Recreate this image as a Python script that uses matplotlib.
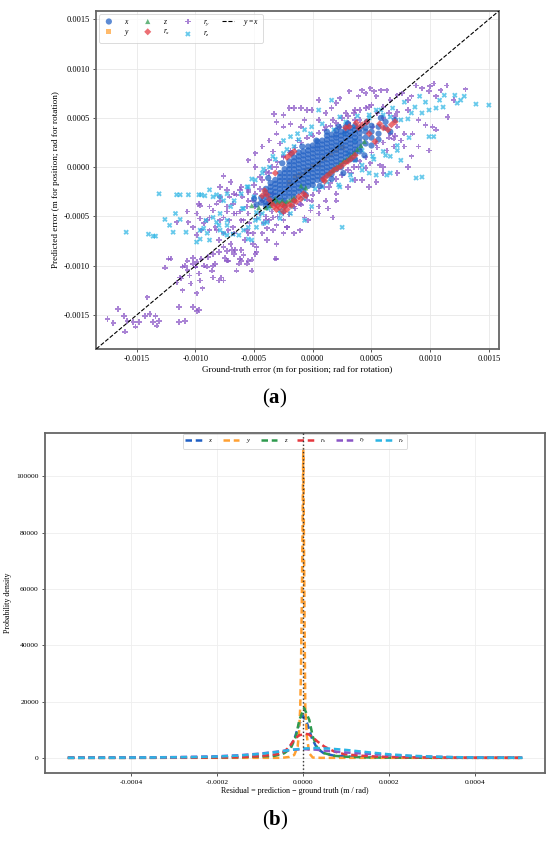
import matplotlib
matplotlib.use("Agg")
import matplotlib.pyplot as plt
import numpy as np
from matplotlib.ticker import FormatStrFormatter, MultipleLocator

plt.rcParams['font.family'] = ['Liberation Serif', 'DejaVu Serif']
plt.rcParams['mathtext.fontset'] = 'custom'
plt.rcParams['mathtext.rm'] = 'Liberation Serif'
plt.rcParams['mathtext.it'] = 'Liberation Serif:italic'
plt.rcParams['mathtext.bf'] = 'Liberation Serif:bold'

U = 1e-4  # values below are read in units of 1e-4 (m or rad)

# ---------------- panel (a): scatter data (ground truth, predicted) ----------------
# r_y (purple)
ry_gt = [-17.5,-17.0,-16.6,-16.1,-16.0,-15.8,-15.3,-15.1,-14.8,-14.3,-14.1,-13.9,-13.6,-13.4,-13.3,-13.1,-11.4,-11.4,-10.9,-10.2,-9.9,
         -12.6,-12.3,-11.6,-11.3,-11.1,-10.9,-10.7,-10.7,-10.5,-10.4,-10.2,-10.2,-10.0,-9.9,-9.7,-9.6,-9.5,-9.3,-9.0,-8.9,-8.6,-8.5,-8.5,-8.3,-8.0,-7.8,-7.6,-7.5,-7.3,-7.2,-6.9,-6.6,-6.5,-6.3,-6.2,-6.1,-5.9,-5.6,-5.2,-4.8,-3.2,-8.0,-9.4,-9.9,
         -9.6,-9.3,-9.0,-8.8,-9.5,-8.8,-8.3,-8.0,-7.6,-7.3,-7.2,-7.1,-6.8,-6.5,-6.2,-5.9,-5.6,-5.6,-5.4,-5.1,-4.8,-4.5,-4.2,-3.9,-3.7,-3.4,-3.1,-2.8,-2.5,-2.2,-4.8,-5.1,-3.9,-6.8,-7.1,-6.5,-6.2,-8.2,-7.9,-8.5,-9.6,-9.9,-5.1,-3.9,-3.4,-2.5,-10.6,-10.2,-11.6,-10.7,-9.9,
         3.1,3.9,4.2,4.5,4.9,5.2,5.4,5.8,6.3,6.6,7.2,7.6,8.1,8.4,8.8,9.3,9.9,10.0,10.3,10.5,10.9,11.4,11.5,12.0,13.0,9.0,9.6,10.2,10.5,8.5,6.9,7.8,9.0,2.3,2.0,1.6,1.1,0.5,-0.5,-1.0,-1.6,-2.0,-2.5,-3.3,-3.1,-0.7,-0.1,2.8,3.6,4.8,6.0,7.2,8.1,7.2,7.8,6.6,7.5,5.1,3.6,5.4,6.3,5.7,4.9,4.5,3.9,3.3,3.6,3.0,6.9,6.0,
         1.4,2.0,1.3,0.5,-0.2,-0.7,1.7,-0.1,-1.1,-1.6,-2.5,-2.2,-3.1,-5.2,-5.5,-6.1,-5.8,-4.9,-7.0,-7.6,-8.2,-7.9,
         -7.6,-7.0,-6.1,-5.5,-4.9,-4.3,-3.7,-3.1,-2.5,-1.9,-1.3,-2.8,-3.4,-3.7,
         -12.1,-11.2,-11.1,-10.0,-9.7,-9.7,-8.8,-7.9,-7.3,-6.7,-6.1,-5.5,-4.9,-4.3,-5.5,-6.7,-7.3,-7.9,-4.0,-3.4,-2.5,-1.6,-5.5,-6.7,-7.6,-8.5,-7.3,-6.7,-4.3,-3.1,-1.1,-0.4,0.5,1.1,2.0,3.0,3.6,4.2,4.8,5.4,6.0,7.2,8.1,8.4,9.9,
         -2.5,-3.1,-3.7,-4.3,-4.9,-5.5,-4.9,-1.9,-1.0,0.5,1.1,1.7,2.3,
         -4.5,-4.0,-3.5,-3.0,-2.5,-2.0,-1.5,-1.0,-0.5,0.0,0.5,1.0,1.5,2.0,2.5,3.0,3.5,4.0,4.5,5.0,5.5,6.0,6.5,7.0,3.0,4.0,-5.0,-5.5,-6.0,-4.5,
         -3.0,-2.5,-2.0,-1.5,-1.0,-0.5,0.0,0.5,1.0,1.5,2.0,2.5,3.0,3.5,4.0,4.5,5.0,5.5,6.0,6.5,7.0,-4.0,-3.5]
ry_pr = [-15.4,-15.8,-14.4,-15.1,-16.7,-15.6,-15.7,-16.2,-15.7,-15.1,-13.2,-14.9,-15.7,-15.1,-16.1,-15.6,-14.2,-15.7,-15.6,-14.2,-14.6,
         -10.2,-9.3,-11.7,-11.2,-10.1,-10.0,-9.5,-10.4,-11.0,-11.8,-9.8,-9.2,-10.1,-9.6,-10.8,-11.5,-9.3,-10.0,-10.1,-9.1,-10.5,-10.0,-11.2,-9.8,-8.6,-11.2,-11.5,-9.2,-8.5,-9.5,-8.4,-8.4,-10.5,-9.8,-9.3,-9.5,-8.9,-9.8,-9.4,-8.6,-9.3,-11.5,-12.3,-12.8,
         -5.2,-5.7,-5.4,-5.1,-6.4,-6.4,-6.1,-7.4,-5.1,-4.5,-6.4,-5.4,-6.1,-4.7,-4.5,-5.4,-4.0,-6.4,-5.7,-6.7,-5.2,-4.7,-5.7,-6.2,-5.4,-5.1,-5.9,-4.5,-5.4,-6.1,-8.1,-7.8,-7.4,-3.7,-3.0,-2.8,-2.3,-3.7,-3.0,-4.4,-3.9,-4.7,-3.4,-3.7,-2.7,-3.4,-5.6,-6.1,-5.6,-4.5,-6.9,
         7.7,7.2,7.8,7.5,8.0,7.7,7.2,7.8,7.8,6.8,7.3,7.5,6.8,7.2,8.3,8.0,7.7,8.2,8.5,7.2,7.8,8.3,5.1,6.8,7.9,4.8,4.3,4.1,3.8,3.4,2.9,2.1,2.1,7.0,6.5,6.0,5.5,6.8,5.8,6.0,6.0,6.0,5.3,5.4,4.6,4.8,5.8,5.5,5.8,6.1,6.1,5.6,5.8,4.1,3.4,3.4,2.7,4.1,4.8,2.4,1.7,0.2,0.4,-0.1,0.0,-0.6,1.6,0.7,2.1,0.0,
         -2.0,-3.4,-4.2,-4.7,-4.4,-5.1,-5.1,-3.4,-3.7,-4.0,-4.7,-6.1,-9.3,-10.5,-9.5,-8.4,-7.4,-8.8,-7.8,-6.7,-6.4,-5.4,
         -0.9,-1.5,-2.0,-2.3,-2.7,-1.3,-0.6,0.0,1.1,1.7,2.7,2.4,1.6,0.7,
         -9.3,-11.3,-12.5,-10.1,-14.5,-3.7,-4.0,-3.4,-4.0,-4.7,-5.4,-4.7,-4.0,-3.4,-3.4,-2.7,-2.3,-2.0,-5.4,-6.4,-6.7,-6.7,-6.7,-6.7,-8.1,-8.8,-9.5,-8.8,-6.7,-7.8,-6.4,-5.4,-4.0,-3.4,-2.7,-2.0,-1.3,-1.3,-2.0,-1.5,-0.6,-0.6,0.0,1.1,1.7,
         4.1,3.4,2.7,2.1,1.4,0.7,0.0,4.4,4.1,4.8,4.1,4.8,4.1,
         -1.0,-0.5,0.0,0.5,1.0,1.5,2.0,2.5,3.0,3.2,3.5,3.8,4.2,4.5,5.0,5.2,5.5,5.8,6.0,6.3,5.5,5.0,5.5,5.2,4.5,4.8,-1.8,-2.5,-3.0,-2.2,
         -5.0,-4.6,-4.8,-4.2,-3.8,-3.3,-2.8,-2.4,-2.0,-1.6,-1.2,-0.8,-0.3,0.0,0.6,1.0,1.5,2.0,2.5,3.0,3.2,-5.0,-4.5]

# r_z (cyan)
rz_gt = [-15.9,-14.0,-13.6,-13.1,-12.6,-12.2,-11.9,-11.7,-11.6,-11.3,-11.3,-10.8,-10.6,-9.9,-9.7,-9.6,-9.5,-9.2,-8.8,-8.5,-8.2,-7.9,-7.6,-7.3,-8.2,-8.0,-7.9,-7.6,-7.3,-6.8,-6.3,-5.9,-5.5,-5.2,-4.8,-4.2,-3.9,-2.8,-2.7,-2.5,-4.6,-5.9,-5.6,-7.3,-9.3,-8.8,-9.6,-9.0,-13.4,
         13.9,15.0,12.9,12.6,12.3,12.1,11.2,10.8,10.5,11.1,9.6,9.1,8.7,8.4,9.3,9.9,8.1,7.5,6.6,6.0,5.4,4.8,10.3,9.3,6.6,6.3,5.4,4.8,4.2,3.6,3.0,2.3,5.1,4.2,3.6,7.2,6.0,7.5,6.6,3.6,4.2,2.7,2.3,1.6,0.5,-0.1,-0.7,-1.9,-2.5,-1.3,-1.6,-2.5,-3.4,-3.7,-4.3,-4.9,-5.5,-6.1,-6.7,-7.0,-7.3,-7.9,-8.5,-9.1,-3.7,-4.3,-4.9,-5.5,-1.9,-0.7,-0.1,2.5,0.8,2.3,3.3,8.8,9.9,
         -4.2,-3.2,-2.2,-1.2,-0.2,0.8,1.8,2.8,3.8,4.8,5.8,6.8,7.8,-5.2,
         -3.8,-2.8,-1.8,-0.8,0.2,1.2,2.2,3.2,4.2,5.2,6.2,7.2,8.2,-4.8,-6.0,-5.0]
rz_pr = [-6.6,-6.8,-7.0,-2.7,-5.3,-5.9,-6.6,-4.7,-2.8,-2.8,-5.3,-6.6,-2.8,-7.6,-2.8,-7.3,-2.8,-2.9,-2.3,-3.0,-2.8,-3.0,-3.4,-2.7,-5.6,-5.9,-6.4,-6.7,-6.9,-6.8,-6.9,-6.4,-7.3,-7.4,-6.1,-5.7,-5.6,-5.2,-4.7,-4.4,-5.2,-4.2,-2.0,-5.9,-6.2,-7.4,-6.4,-6.7,-7.0,
         6.4,6.3,7.2,6.8,6.5,7.3,7.3,6.8,6.0,6.1,6.6,7.2,6.1,5.5,5.5,5.8,4.9,4.8,5.1,5.3,5.8,5.3,3.1,-1.0,-0.6,-0.8,-0.8,-0.6,-0.3,0.7,1.4,2.1,1.1,1.7,2.7,1.7,1.6,0.7,1.1,4.1,4.1,3.4,5.1,6.8,5.8,4.1,3.8,3.1,2.7,3.4,2.1,1.4,1.1,0.0,-0.6,-1.3,-2.0,-2.7,-3.4,-4.0,-5.4,-4.7,-5.1,-5.4,-4.0,-4.7,-5.4,-6.1,-4.7,-5.4,-4.0,-6.1,-2.0,-2.0,-1.3,-1.1,3.1,
         -0.2,0.8,1.8,2.8,3.4,4.4,3.8,4.6,5.2,5.0,5.8,6.0,6.6,-1.2,
         -4.2,-4.4,-4.0,-3.2,-2.2,-1.5,-1.8,-0.8,0.2,0.8,1.2,2.2,3.0,-4.6,-4.2,-3.0]

# r_x (red)
rx_gt = [-3.9,-3.7,-3.5,-3.3,-3.0,-2.8,-2.6,-2.4,-2.2,-2.0,-1.8,-1.6,-1.4,-1.2,-1.0,-0.8,-0.6,-3.1,-2.5,-4.1,-4.3,
         -2.2,-1.9,-1.6,-3.2,
         0.9,1.2,1.5,1.8,2.1,2.4,2.7,3.0,3.3,3.6,1.0,
         3.1,3.7,4.2,4.8,5.3,5.7,6.0,6.4,6.7,7.0,4.6,2.8,3.9]
rx_pr = [-2.8,-3.3,-3.7,-4.0,-3.9,-4.1,-3.8,-4.0,-4.3,-3.8,-3.9,-3.4,-3.5,-3.0,-3.2,-2.7,-2.9,-4.3,-4.5,-2.4,-2.9,
         1.0,1.3,1.6,-0.6,
         -1.2,-0.9,-0.6,-0.3,-0.1,0.1,0.4,0.6,0.9,1.2,-1.4,
         4.1,4.5,4.3,3.4,2.6,4.4,4.0,3.8,4.3,4.6,4.6,4.0,4.0]

# z (green)
z_gt = [-3.2,-3.0,-2.8,-2.6,-2.4,-2.2,-2.0,-1.8,-1.6,-3.6,-4.0,-4.6,-5.2,-3.4,
        1.4,1.7,2.0,2.3,2.6,2.9,3.2,3.5,3.8,4.1,4.4,-1.0,-0.6]
z_pr = [-3.2,-3.5,-3.6,-3.4,-3.7,-3.5,-3.4,-3.3,-3.1,-3.9,-4.1,-4.1,-3.9,-3.5,
        -0.6,-0.3,0.0,0.3,0.6,0.8,1.1,1.4,1.8,2.2,2.6,-1.9,-2.1]

# y (orange) - hidden under the x cloud
y_gt = [-2.0,-1.0,0.0,1.0,2.0,-1.5,0.5,1.5,2.5,-0.5]
y_pr = [-1.6,-0.8,0.1,0.9,1.7,-1.0,0.3,1.3,2.0,-0.3]

# x (blue) - dense core, read column by column: ground truth -> predicted values
x_cols = {
    -4.4: [-3.6,-3.1],
    -4.0: [-3.9,-3.5,-3.0,-2.6,-2.2],
    -3.6: [-3.6,-3.2,-2.8,-2.4,-2.0,-1.6],
    -3.2: [-3.7,-3.3,-2.9,-2.5,-2.1,-1.7,-1.3],
    -2.8: [-3.4,-3.0,-2.6,-2.2,-1.8,-1.4,-1.0,-0.6],
    -2.4: [-3.4,-3.0,-2.6,-2.2,-1.8,-1.4,-1.0,-0.6,-0.2],
    -2.0: [-3.0,-2.6,-2.2,-1.8,-1.4,-1.0,-0.6,-0.2,0.2,0.6],
    -1.6: [-3.0,-2.6,-2.2,-1.8,-1.4,-1.0,-0.6,-0.2,0.2,0.6,1.0],
    -1.2: [-2.5,-2.1,-1.7,-1.3,-0.9,-0.5,-0.1,0.3,0.7,1.1,1.5],
    -0.8: [-2.4,-2.0,-1.6,-1.2,-0.8,-0.4,0.0,0.4,0.8,1.2,1.6],
    -0.4: [-1.9,-1.5,-1.1,-0.7,-0.3,0.1,0.5,0.9,1.3,1.7,2.1],
    0.0: [-1.8,-1.4,-1.0,-0.6,-0.2,0.2,0.6,1.0,1.4,1.8,2.2],
    0.4: [-1.3,-0.9,-0.5,-0.1,0.3,0.7,1.1,1.5,1.9,2.2,2.6],
    0.8: [-1.3,-0.9,-0.5,-0.1,0.3,0.7,1.1,1.5,1.9,2.3,2.7],
    1.2: [-0.8,-0.4,0.0,0.4,0.8,1.2,1.6,2.0,2.4,2.8,3.2],
    1.6: [-0.7,-0.3,0.1,0.5,0.9,1.3,1.7,2.1,2.5,2.9,3.3],
    2.0: [-0.2,0.2,0.6,1.0,1.4,1.8,2.2,2.6,3.0,3.3,3.7],
    2.4: [0.0,0.4,0.8,1.2,1.6,2.0,2.4,2.8,3.2,3.6],
    2.8: [0.6,1.0,1.4,1.8,2.2,2.6,3.0,3.4,3.7,4.1],
    3.2: [0.8,1.2,1.6,2.0,2.4,2.8,3.2,3.6,4.0],
    3.6: [1.4,1.8,2.2,2.6,3.0,3.4,3.8,4.2],
    4.0: [1.6,2.0,2.5,3.0,3.5,3.9],
    4.5: [2.4,3.0,3.6,4.0],
    5.0: [3.0,3.6,4.2],
    5.6: [3.4,4.1],
    6.2: [4.0,4.6],
}
x_extra_gt = [-4.8,-5.0,-3.8,-2.6,-1.8,-0.9,0.3,1.2,2.2,3.0,3.6,2.6,1.6,0.6,-0.6,-1.6,-2.4,4.4,5.0,5.6,6.6,7.0,5.8,4.6]
x_extra_pr = [-3.8,-3.2,-1.1,0.4,1.4,2.1,2.7,3.6,4.1,4.4,0.8,-0.6,-1.2,-1.9,-2.8,-3.4,-3.9,1.2,2.2,2.8,3.6,4.8,5.0,4.6]

# ---------------- panel (b): residual density curves (residual in 1e-4, density) ----------------
kde_x_res = [-5.47,-4.0,-3.0,-2.0,-1.5,-1.0,-0.7,-0.47,-0.32,-0.2,-0.1,0.0,0.1,0.2,0.32,0.47,0.7,1.0,1.5,2.0,3.0,4.0,5.09]
kde_x_den = [0,10,30,100,220,450,800,1700,3400,7000,11800,14900,11800,7000,3400,1700,800,450,180,70,15,5,0]
kde_y_res = [-5.47,-0.5,-0.33,-0.21,-0.13,-0.093,-0.07,-0.054,-0.03,0.0,0.03,0.047,0.085,0.14,0.22,0.4,5.09]
kde_y_den = [0,0,300,1000,4000,10000,18000,30000,60000,110000,50000,18000,7500,1600,100,0,0]
kde_z_res = [-5.47,-4.0,-3.0,-2.0,-1.5,-1.0,-0.67,-0.44,-0.29,-0.17,-0.09,0.02,0.14,0.22,0.33,0.49,0.72,1.0,1.5,2.0,3.0,4.0,5.09]
kde_z_den = [0,10,30,100,250,500,700,1650,3400,7600,13500,17700,13500,7600,3400,1650,700,400,150,60,15,5,0]
kde_rx_res = [-5.47,-4.0,-3.0,-2.0,-1.5,-1.0,-0.6,-0.44,-0.33,-0.21,-0.1,0.05,0.12,0.22,0.33,0.49,0.72,0.95,1.3,1.7,2.2,3.0,4.0,5.09]
kde_rx_den = [0,15,40,130,250,600,1300,2250,3800,6400,8000,8500,8400,7300,5800,4000,2250,1300,800,450,220,80,20,0]
kde_ry_res = [-5.47,-4.5,-3.5,-3.0,-2.5,-2.0,-1.5,-1.0,-0.6,-0.3,0.0,0.3,0.6,1.0,1.5,2.0,2.5,3.0,3.5,4.0,4.5,5.09]
kde_ry_den = [30,80,180,260,380,560,900,1500,2200,2800,3100,2900,2400,1900,1400,950,620,380,220,120,60,20]
kde_rz_res = [-5.47,-4.5,-3.5,-3.0,-2.5,-2.0,-1.5,-1.0,-0.6,-0.3,0.0,0.3,0.6,1.0,1.5,2.0,2.5,3.0,3.5,4.0,4.5,5.09]
kde_rz_den = [20,60,130,200,300,470,800,1400,2100,2800,3300,3500,3300,2800,2000,1250,750,450,250,130,60,20]

labels = [r'$x$', r'$y$', r'$z$', r'$r_x$', r'$r_y$', r'$r_z$']
colors = ['#1f5fc4', '#ffa032', '#2e9a4e', '#e5383e', '#8a55c6', '#2bb4e4']
markers = ['o', 's', '^', 'D', 'P', 'X']
sizes = [20, 14, 14, 13, 15, 15]

# ---------------- figure ----------------
fig = plt.figure(figsize=(5.5, 8.47), dpi=100)
ax1 = fig.add_axes([0.175, 0.588, 0.732, 0.399])
ax2 = fig.add_axes([0.082, 0.087, 0.909, 0.402])

xb_gt, xb_pr = [], []
for gx, ys in x_cols.items():
    for yy in ys:
        xb_gt.append(gx); xb_pr.append(yy)
xb_gt += x_extra_gt; xb_pr += x_extra_pr

series = {
    0: (xb_gt, xb_pr), 1: (y_gt, y_pr), 2: (z_gt, z_pr),
    3: (rx_gt, rx_pr), 4: (ry_gt, ry_pr), 5: (rz_gt, rz_pr),
}
handles = {}
for i in [4, 5, 1, 0, 2, 3]:
    gx, py = series[i]
    h = ax1.scatter(np.array(gx) * U, np.array(py) * U, s=sizes[i], marker=markers[i],
                    color=colors[i], alpha=0.72, edgecolors='none', label=labels[i], zorder=2)
    handles[i] = h

lim = (-0.001845, 0.001585)
line, = ax1.plot(lim, lim, color='black', ls='--', lw=0.8, label=r'$y=x$', zorder=3)
ax1.set_xlim(lim); ax1.set_ylim(lim)
ax1.xaxis.set_major_locator(MultipleLocator(0.0005))
ax1.yaxis.set_major_locator(MultipleLocator(0.0005))
ax1.xaxis.set_major_formatter(FormatStrFormatter('%.4f'))
ax1.yaxis.set_major_formatter(FormatStrFormatter('%.4f'))
ax1.grid(True, color='#e8e8e8', lw=0.6, zorder=0)
ax1.set_axisbelow(True)
ax1.set_xlabel('Ground-truth error (m for position; rad for rotation)', fontsize=6.6, labelpad=2)
ax1.set_ylabel('Predicted error (m for position; rad for rotation)', fontsize=6.6, labelpad=3)
leg1 = ax1.legend([handles[0], handles[1], handles[2], handles[3], handles[4], handles[5], line],
                  [labels[0], labels[1], labels[2], labels[3], labels[4], labels[5], r'$y=x$'],
                  loc='upper left', ncol=4, fontsize=5.5, frameon=True, columnspacing=1.5,
                  handletextpad=1.2, borderpad=0.45, labelspacing=0.3, markerscale=1.0,
                  handlelength=1.6, fancybox=True, borderaxespad=0.4)
leg1.get_frame().set_edgecolor('#cccccc')
leg1.get_frame().set_linewidth(0.6)

curves = [(kde_x_res, kde_x_den), (kde_y_res, kde_y_den), (kde_z_res, kde_z_den),
          (kde_rx_res, kde_rx_den), (kde_ry_res, kde_ry_den), (kde_rz_res, kde_rz_den)]
for i, (rx, dn) in enumerate(curves):
    ax2.plot(np.array(rx) * U, dn, color=colors[i], ls='--', lw=1.8, dashes=(2.6, 1.5),
             label=labels[i], zorder=3 + i)
ax2.axvline(0, color='#333333', ls=':', lw=1.0, zorder=10)
ax2.xaxis.set_major_locator(MultipleLocator(0.0002))
ax2.xaxis.set_major_formatter(FormatStrFormatter('%.4f'))
ax2.yaxis.set_major_locator(MultipleLocator(20000))
ax2.grid(True, color='#eeeeee', lw=0.6, zorder=0)
ax2.set_axisbelow(True)
ax2.set_xlabel('Residual = prediction \u2212 ground truth (m / rad)', fontsize=5.8, labelpad=2)
ax2.set_ylabel('Probability density', fontsize=5.8, labelpad=3)
leg2 = ax2.legend(loc='upper center', ncol=6, fontsize=4.8, frameon=True, handlelength=2.45,
                  columnspacing=1.4, handletextpad=1.0, borderpad=0.4, borderaxespad=0.2)
leg2.get_frame().set_edgecolor('#cccccc')
leg2.get_frame().set_linewidth(0.6)

for ax, fs in [(ax1, 6.0), (ax2, 5.4)]:
    for sp in ax.spines.values():
        sp.set_color('#666666'); sp.set_linewidth(1.3)
    ax.tick_params(labelsize=fs, length=2.5, width=0.7, color='#555555', pad=2)

fig.text(0.5, 1 - 398 / 847, r'($\mathbf{a}$)', ha='center', va='center', fontsize=15)
fig.text(0.5, 1 - 820 / 847, r'($\mathbf{b}$)', ha='center', va='center', fontsize=15)

fig.savefig('out.png', dpi=100)
